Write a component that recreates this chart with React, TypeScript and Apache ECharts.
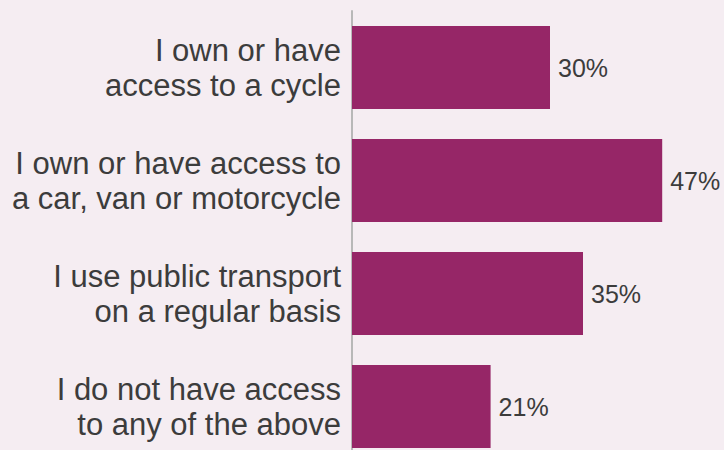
import React, { useEffect, useRef } from "react";
import * as echarts from "echarts";

const categories = [
  "I own or have\naccess to a cycle",
  "I own or have access to\na car, van or motorcycle",
  "I use public transport\non a regular basis",
  "I do not have access\nto any of the above",
];
const values = [30, 47, 35, 21];

export default function App() {
  const ref = useRef<HTMLDivElement>(null);
  useEffect(() => {
    if (!ref.current) return;
    const chart = echarts.init(ref.current, null, { renderer: "svg" });
    chart.setOption({
      animation: false,
      backgroundColor: "#f5edf2",
      grid: { left: 352, top: 11, width: 330, height: 452, containLabel: false },
      xAxis: {
        type: "value",
        min: 0,
        max: 50,
        show: false,
      },
      yAxis: {
        type: "category",
        data: categories,
        inverse: true,
        axisLine: { show: true, lineStyle: { color: "#b8b8b8", width: 2 } },
        axisTick: { show: false },
        splitLine: { show: false },
        axisLabel: {
          margin: 11,
          fontFamily: "Liberation Sans, Arial, sans-serif",
          fontSize: 31,
          lineHeight: 35,
          color: "#3c3c3c",
          align: "right",
        },
      },
      series: [
        {
          type: "bar",
          data: values,
          barWidth: 83,
          itemStyle: { color: "#962667" },
          z: 3,
          label: {
            show: true,
            position: "right",
            distance: 8,
            formatter: "{c}%",
            fontFamily: "Liberation Sans, Arial, sans-serif",
            fontSize: 25,
            color: "#3c3c3c",
          },
        },
      ],
    });
    return () => chart.dispose();
  }, []);
  return (
    <div
      ref={ref}
      style={{ position: "fixed", left: 0, top: 0, width: 724, height: 480 }}
    />
  );
}
